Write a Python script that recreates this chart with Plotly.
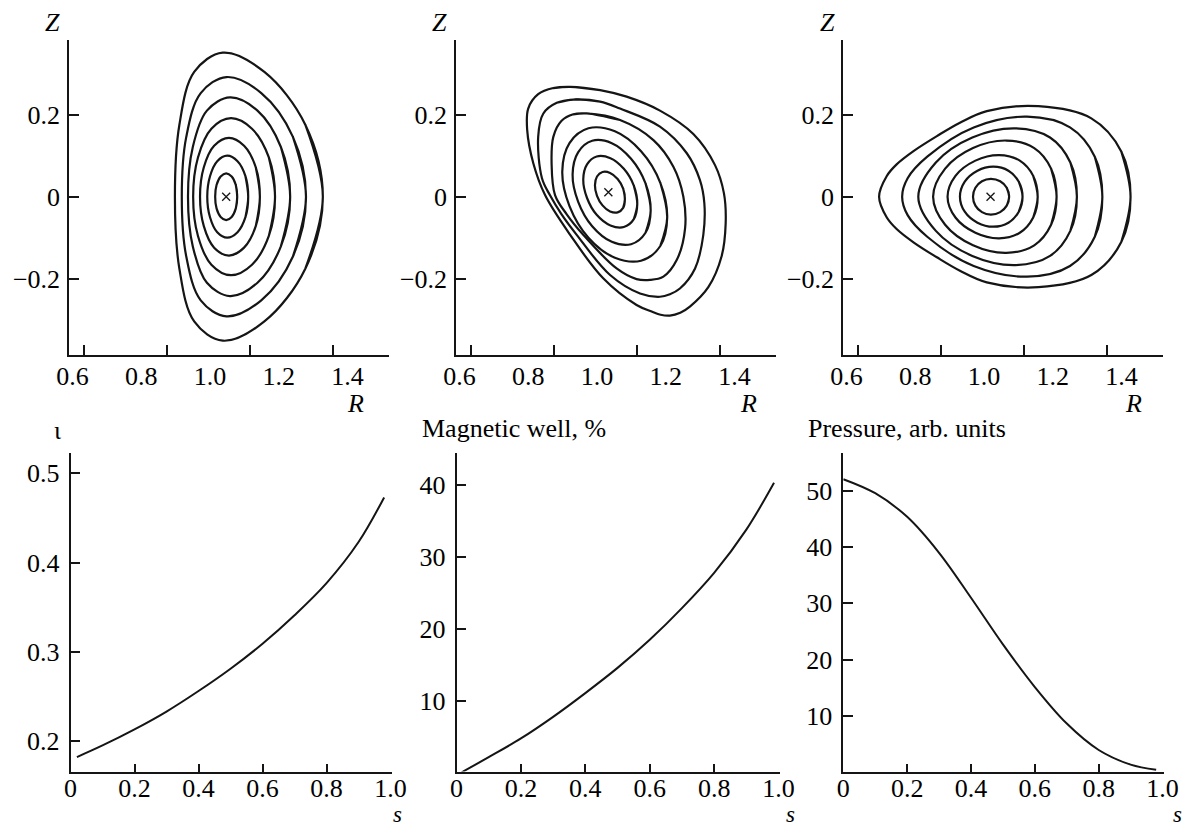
import plotly.graph_objects as go

W, H = 1189, 830
FONT = "Liberation Serif"
INK = "#151515"

# ---------------- data: flux surfaces, panels 1 and 3 (upper halves, right -> left) ----------------
P1_R = [
    [1.079, 1.075, 1.063, 1.047, 1.031, 1.019, 1.015],
    [1.111, 1.103, 1.080, 1.050, 1.021, 1.000, 0.992],
    [1.145, 1.133, 1.099, 1.055, 1.012, 0.982, 0.971],
    [1.189, 1.171, 1.122, 1.061, 1.004, 0.965, 0.951],
    [1.233, 1.206, 1.138, 1.058, 0.991, 0.950, 0.936],
    [1.279, 1.241, 1.149, 1.048, 0.973, 0.931, 0.918],
    [1.328, 1.277, 1.158, 1.037, 0.954, 0.911, 0.898],
]
P1_Z = [
    [0, 0.0285, 0.0493, 0.0570, 0.0493, 0.0285, 0],
    [0, 0.0500, 0.0866, 0.1000, 0.0866, 0.0500, 0],
    [0, 0.0718, 0.1243, 0.1435, 0.1243, 0.0718, 0],
    [0, 0.0957, 0.1658, 0.1915, 0.1658, 0.0957, 0],
    [0, 0.1212, 0.2099, 0.2423, 0.2099, 0.1212, 0],
    [0, 0.1459, 0.2527, 0.2918, 0.2527, 0.1459, 0],
    [0, 0.1756, 0.3042, 0.3512, 0.3042, 0.1756, 0],
]
P3_R = [
    [1.073, 1.066, 1.047, 1.020, 0.994, 0.975, 0.968],
    [1.112, 1.101, 1.071, 1.027, 0.981, 0.944, 0.930],
    [1.156, 1.143, 1.104, 1.044, 0.975, 0.917, 0.894],
    [1.211, 1.195, 1.146, 1.065, 0.968, 0.887, 0.852],
    [1.270, 1.251, 1.192, 1.092, 0.966, 0.860, 0.809],
    [1.344, 1.322, 1.250, 1.125, 0.970, 0.835, 0.778, 0.762],
    [1.426, 1.399, 1.312, 1.158, 1.008, 0.930, 0.863, 0.795, 0.746, 0.717, 0.695],
]
P3_Z = [
    [0, 0.0218, 0.0377, 0.0435, 0.0377, 0.0218, 0],
    [0, 0.0366, 0.0634, 0.0732, 0.0634, 0.0366, 0],
    [0, 0.0508, 0.0880, 0.1016, 0.0880, 0.0508, 0],
    [0, 0.0685, 0.1186, 0.1370, 0.1186, 0.0685, 0],
    [0, 0.0834, 0.1444, 0.1667, 0.1444, 0.0834, 0],
    [0, 0.0976, 0.1690, 0.1951, 0.1690, 0.0976, 0.045, 0],
    [0, 0.1104, 0.1911, 0.2207, 0.2088, 0.1805, 0.1478, 0.1112, 0.0788, 0.050, 0],
]
# ---------------- panel 2: tilted surfaces, full closed outlines ----------------
P2_R = [
    [1.081, 1.076, 1.060, 1.038, 1.016, 1.000, 0.994, 1.000, 1.016, 1.038, 1.060, 1.076],
    [1.117, 1.107, 1.078, 1.039, 0.999, 0.971, 0.960, 0.971, 0.999, 1.039, 1.078, 1.107],
    [1.156, 1.141, 1.099, 1.043, 0.986, 0.945, 0.929, 0.945, 0.986, 1.043, 1.099, 1.141],
    [1.204, 1.184, 1.128, 1.052, 0.975, 0.920, 0.899, 0.920, 0.975, 1.052, 1.128, 1.184],
    [0.970, 1.067, 1.164, 1.222, 1.251, 1.256, 1.232, 1.193, 1.154, 1.115, 1.057, 0.960, 0.912, 0.878, 0.868, 0.873, 0.897, 0.931],
    [0.931, 1.009, 1.067, 1.183, 1.261, 1.299, 1.312, 1.309, 1.285, 1.241, 1.212, 1.183, 1.125, 1.038, 0.941, 0.897, 0.863, 0.840, 0.829, 0.844, 0.883],
    [0.922, 1.009, 1.086, 1.183, 1.280, 1.343, 1.369, 1.374, 1.362, 1.324, 1.270, 1.242, 1.212, 1.185, 1.159, 1.115, 1.018, 0.922, 0.849, 0.815, 0.797, 0.800, 0.829, 0.873],
]
P2_Z = [
    [-0.0061, -0.0273, -0.0383, -0.0361, -0.0212, 0.0022, 0.0280, 0.0493, 0.0602, 0.0580, 0.0432, 0.0198],
    [-0.0179, -0.0549, -0.0740, -0.0701, -0.0442, -0.0032, 0.0418, 0.0788, 0.0980, 0.0940, 0.0681, 0.0271],
    [-0.0336, -0.0879, -0.1159, -0.1101, -0.0721, -0.0120, 0.0540, 0.1083, 0.1364, 0.1306, 0.0926, 0.0325],
    [-0.0507, -0.1202, -0.1561, -0.1487, -0.1000, -0.0231, 0.0614, 0.1309, 0.1668, 0.1594, 0.1108, 0.0339],
    [0.203, 0.187, 0.138, 0.073, 0.000, -0.077, -0.154, -0.195, -0.203, -0.201, -0.175, -0.093, -0.043, 0.004, 0.081, 0.146, 0.185, 0.201],
    [0.237, 0.232, 0.215, 0.171, 0.106, 0.041, -0.016, -0.093, -0.175, -0.224, -0.238, -0.244, -0.236, -0.191, -0.093, -0.043, 0.004, 0.045, 0.146, 0.203, 0.229],
    [0.268, 0.260, 0.244, 0.210, 0.153, 0.077, 0.008, -0.065, -0.146, -0.220, -0.268, -0.283, -0.290, -0.288, -0.280, -0.264, -0.199, -0.093, 0.004, 0.081, 0.163, 0.215, 0.250, 0.265],
]
AXIS_R = [1.047, 1.033, 1.019]
AXIS_Z = [0.0, 0.011, 0.0]

# ---------------- data: radial profiles ----------------
IOTA_S = [0.02, 0.1, 0.2, 0.3, 0.4, 0.5, 0.6, 0.7, 0.8, 0.9, 0.98]
IOTA = [0.182, 0.195, 0.213, 0.233, 0.256, 0.281, 0.309, 0.341, 0.377, 0.423, 0.473]
WELL_S = [0.016, 0.1, 0.2, 0.3, 0.4, 0.5, 0.6, 0.7, 0.8, 0.9, 0.986]
WELL = [0.1, 2.2, 4.8, 7.8, 11.1, 14.6, 18.5, 22.9, 27.8, 33.8, 40.3]
PRES_S = [0.0, 0.1, 0.2, 0.3, 0.4, 0.5, 0.6, 0.7, 0.8, 0.9, 0.98]
PRES = [52.1, 49.6, 45.4, 39.0, 31.0, 22.7, 15.1, 8.6, 3.9, 1.3, 0.4]

# ---------------- axis tick data ----------------
R_TICK_MARKS = [0.634, 0.875, 1.116, 1.357]
R_TICK_LABELS = [0.6, 0.8, 1.0, 1.2, 1.4]
Z_TICKS = [-0.2, 0, 0.2]
S_TICKS = [0, 0.2, 0.4, 0.6, 0.8, 1.0]
IOTA_TICKS = [0.2, 0.3, 0.4, 0.5]
WELL_TICKS = [10, 20, 30, 40]
PRES_TICKS = [10, 20, 30, 40, 50]

fig = go.Figure()


def px_x(p):
    return p / W


def px_y(p):
    return 1 - p / H


def closed(vals):
    return [vals[-1]] + list(vals) + list(vals[:2])


def mirror(r_up, z_up):
    r = list(r_up) + list(r_up[-2:0:-1])
    z = list(z_up) + [-v for v in z_up[-2:0:-1]]
    return r, z


def add_ring(r, z, xa, ya):
    fig.add_trace(go.Scatter(
        x=closed(r), y=closed(z), mode="lines", xaxis=xa, yaxis=ya,
        line=dict(color=INK, width=2.2, shape="spline", smoothing=1.0),
        hoverinfo="skip", showlegend=False))


for rr, zz in zip(P1_R, P1_Z):
    r, z = mirror(rr, zz)
    add_ring(r, z, "x", "y")
for rr, zz in zip(P2_R, P2_Z):
    add_ring(rr, zz, "x2", "y2")
for rr, zz in zip(P3_R, P3_Z):
    r, z = mirror(rr, zz)
    add_ring(r, z, "x3", "y3")

for i, (xa, ya) in enumerate([("x", "y"), ("x2", "y2"), ("x3", "y3")]):
    fig.add_trace(go.Scatter(
        x=[AXIS_R[i]], y=[AXIS_Z[i]], mode="markers", xaxis=xa, yaxis=ya,
        marker=dict(symbol="x-thin", size=8, line=dict(color=INK, width=1.3)),
        hoverinfo="skip", showlegend=False))
    # invisible trace carrying the overlay label axis
    fig.add_trace(go.Scatter(
        x=[1.0], y=[0.0], mode="markers", xaxis="x%d" % (7 + i), yaxis=ya,
        marker=dict(opacity=0), hoverinfo="skip", showlegend=False))

for s, v, xa, ya in [(IOTA_S, IOTA, "x4", "y4"), (WELL_S, WELL, "x5", "y5"),
                     (PRES_S, PRES, "x6", "y6")]:
    fig.add_trace(go.Scatter(
        x=s, y=v, mode="lines", xaxis=xa, yaxis=ya,
        line=dict(color=INK, width=2.0, shape="spline", smoothing=1.0),
        hoverinfo="skip", showlegend=False))

tickfont = dict(family=FONT, size=26, color="black")
base = dict(showline=True, linecolor=INK, linewidth=1.5, ticks="inside",
            ticklen=10, tickwidth=1.5, tickcolor=INK, showgrid=False,
            zeroline=False, tickfont=tickfont, fixedrange=True, automargin=False)

top_x_dom = [(69, 389), (456, 776), (843, 1163)]
bot_x_dom = [(70.5, 391.5), (456.5, 779.5), (843.3, 1163.5)]
top_y_dom = [px_y(355), px_y(40)]
bot_y_dom = [px_y(771.5), px_y(453)]
R_RANGE = [0.5901, 1.5203]
Z_RANGE = [-0.3861, 0.3822]

layout = dict(width=W, height=H, margin=dict(l=0, r=0, t=0, b=0, autoexpand=False),
              paper_bgcolor="white", plot_bgcolor="white", showlegend=False)

for i in range(3):
    k = "" if i == 0 else str(i + 1)
    yk = "y" + k
    layout["xaxis" + k] = dict(base, domain=[px_x(top_x_dom[i][0]), px_x(top_x_dom[i][1])],
                               range=R_RANGE, anchor=yk, tickvals=R_TICK_MARKS,
                               showticklabels=False)
    layout["yaxis" + k] = dict(base, domain=top_y_dom, range=Z_RANGE, anchor="x" + k,
                               tickvals=Z_TICKS, ticktext=["\u22120.2", "0", "0.2"],
                               ticklabelstandoff=2)
    layout["xaxis%d" % (7 + i)] = dict(overlaying="x" + k, anchor=yk, range=R_RANGE,
                                       tickvals=R_TICK_LABELS,
                                       ticktext=["0.6", "0.8", "1.0", "1.2", "1.4"],
                                       ticks="", showline=False, showgrid=False,
                                       zeroline=False, tickfont=tickfont, automargin=False,
                                       ticklabelstandoff=3, fixedrange=True)

bot_y = [(IOTA_TICKS, [0.1658, 0.5228], ["0.2", "0.3", "0.4", "0.5"]),
         (WELL_TICKS, [0.21, 44.44], None),
         (PRES_TICKS, [0.07, 56.76], None)]
for i in range(3):
    n = str(4 + i)
    yt, yr, ytxt = bot_y[i]
    layout["xaxis" + n] = dict(base, domain=[px_x(bot_x_dom[i][0]), px_x(bot_x_dom[i][1])],
                               range=[0, 1.003], anchor="y" + n, tickvals=S_TICKS,
                               ticktext=["0", "0.2", "0.4", "0.6", "0.8", "1.0"],
                               ticklen=8, ticklabelstandoff=-7)
    ydict = dict(base, domain=bot_y_dom, range=yr, anchor="x" + n, tickvals=yt,
                 ticklabelstandoff=4)
    if ytxt:
        ydict["ticktext"] = ytxt
    layout["yaxis" + n] = ydict

fig.update_layout(**layout)

ann_font = dict(family=FONT, size=26, color="black")
labels = [
    ("<i>Z</i>", 52, 22, "center", 26), ("<i>Z</i>", 440, 22, "center", 26),
    ("<i>Z</i>", 827, 22, "center", 26),
    ("<i>R</i>", 355, 403, "center", 26), ("<i>R</i>", 748, 403, "center", 26),
    ("<i>R</i>", 1133, 403, "center", 26),
    ("\u03b9", 57, 430, "center", 26),
    ("Magnetic well, %", 421, 428, "left", 26),
    ("Pressure, arb. units", 807, 428, "left", 26),
    ("<i>s</i>", 398, 814, "center", 23), ("<i>s</i>", 790, 814, "center", 23),
    ("<i>s</i>", 1177, 814, "center", 23),
]
for text, x, y, anc, size in labels:
    fig.add_annotation(text=text, x=px_x(x), y=px_y(y), xref="paper", yref="paper",
                       xanchor=anc, yanchor="middle", showarrow=False,
                       font=dict(ann_font, size=size), borderpad=0)

fig.write_html("out.html", config={"displayModeBar": False},
               post_script="document.body.style.margin='0';")
